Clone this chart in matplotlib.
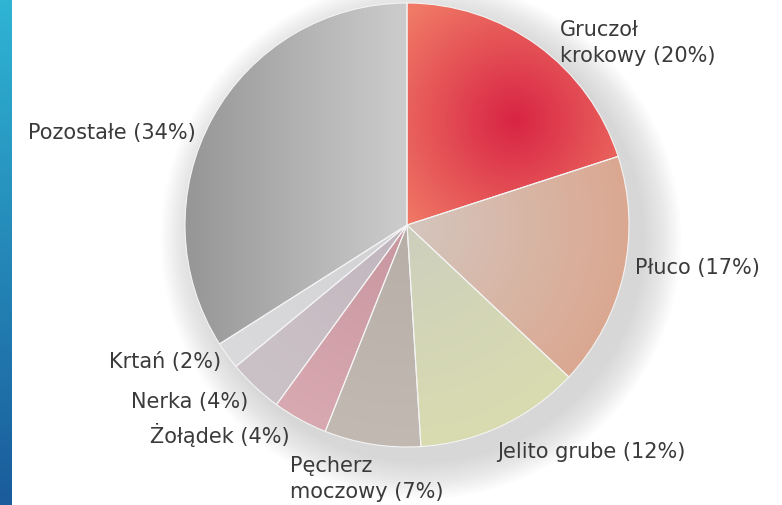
import matplotlib.pyplot as plt
import matplotlib.colors as mcolors
import numpy as np

# --- data ---
labels = ["Gruczoł\nkrokowy (20%)", "Płuco (17%)", "Jelito grube (12%)",
          "Pęcherz\nmoczowy (7%)", "Żołądek (4%)", "Nerka (4%)",
          "Krtań (2%)", "Pozostałe (34%)"]
values = [20, 17, 12, 7, 4, 4, 2, 34]

# inner / outer colours for each slice gradient
inner_colors = ["#d82444", "#d4c6be", "#cdcfbd", "#b6aea7", "#c7969f", "#c2b6be", "#d2d2d4", "#cbcbcb"]
outer_colors = ["#f07a66", "#dba891", "#d9dcb0", "#c2bab2", "#d9a9b1", "#cbc2c7", "#dadadc", "#979797"]

# label positions in pixel coords (y from top) and alignment
label_pos = [(560, 43, "left"), (635, 268, "left"), (497, 452, "left"),
             (290, 479, "left"), (290, 435, "right"), (248, 402, "right"),
             (221, 362, "right"), (196, 133, "right")]

W, H = 782, 505
cx, cy, R = 407, H - 225, 222

fig = plt.figure(figsize=(W / 100, H / 100), dpi=100)
ax = fig.add_axes([0, 0, 1, 1])
ax.axis("off")

# soft shadow bottom right
for k in range(16):
    c = plt.Circle((cx + 14, cy - 14), R + 2 + k * 2.4, color="#6a6a6a", alpha=0.014, lw=0, zorder=0)
    ax.add_patch(c)

wedges, _ = ax.pie(values, startangle=90, counterclock=False, center=(cx, cy), radius=R,
                   wedgeprops=dict(edgecolor="#f4f4f4", linewidth=0.8))

# gradient fill for each wedge
xs = np.arange(cx - R - 2, cx + R + 2)
ys = np.arange(cy - R - 2, cy + R + 2)
X, Y = np.meshgrid(xs, ys)
for i, w in enumerate(wedges):
    c0 = np.array(mcolors.to_rgb(inner_colors[i]))
    c1 = np.array(mcolors.to_rgb(outer_colors[i]))
    if i == 0:
        t = np.hypot(X - 515, Y - (H - 120)) / 150.0
    elif i == 7:
        t = (400 - X) / 210.0
    else:
        t = np.hypot(X - cx, Y - cy) / R
    t = np.clip(t, 0, 1)[..., None]
    img = c0 * (1 - t) + c1 * t
    w.set_facecolor("none")
    im = ax.imshow(img, extent=(xs[0], xs[-1], ys[0], ys[-1]), origin="lower",
                   interpolation="bilinear", zorder=1)
    im.set_clip_path(w)
    w.set_zorder(2)

for lab, (x, y, ha) in zip(labels, label_pos):
    ax.text(x, H - y, lab, ha=ha, va="center", fontsize=15, color="#3a3a3a",
            family="DejaVu Sans", linespacing=1.4, zorder=3)

# blue strip on the left edge
strip = np.linspace(0, 1, 100)[:, None, None]
top = np.array(mcolors.to_rgb("#2fb4d4"))
bot = np.array(mcolors.to_rgb("#1a5c9c"))
ax.imshow(top * (1 - strip) + bot * strip, extent=(0, 12, 0, H), aspect="auto",
          origin="upper", zorder=4)
ax.set_xlim(0, W)
ax.set_ylim(0, H)
ax.set_aspect("equal")

plt.savefig("out.png", dpi=100)
